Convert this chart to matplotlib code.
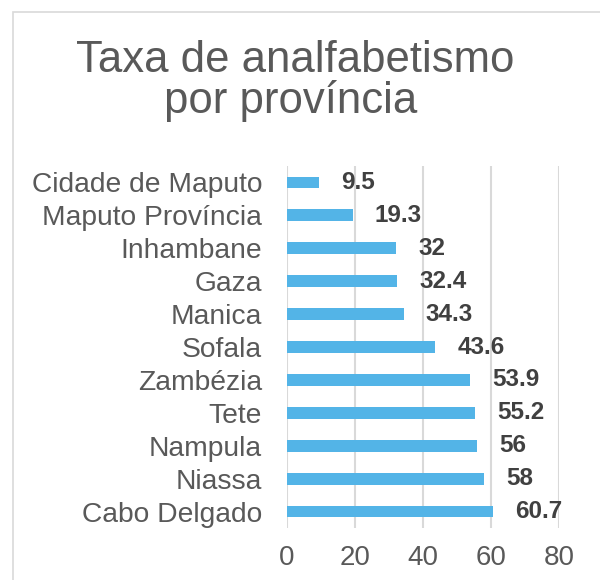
import matplotlib
matplotlib.use('Agg')
import matplotlib.pyplot as plt
from matplotlib.patches import Rectangle

plt.rcParams['font.family'] = ['Liberation Sans', 'DejaVu Sans']

# dados (de cima para baixo)
provincias = ['Cidade de Maputo', 'Maputo Província', 'Inhambane', 'Gaza', 'Manica',
              'Sofala', 'Zambézia', 'Tete', 'Nampula', 'Niassa', 'Cabo Delgado']
taxas = [9.5, 19.3, 32, 32.4, 34.3, 43.6, 53.9, 55.2, 56, 58, 60.7]
x_ticks = [0, 20, 40, 60, 80]

fig = plt.figure(figsize=(6, 5.8), dpi=100)

# moldura clara do gráfico
fig.patches.append(Rectangle((13 / 600, -0.1), 1.2, 1 - 12 / 580 + 0.1,
                             transform=fig.transFigure, fill=False,
                             edgecolor='#d9d9d9', linewidth=1.2))

ax = fig.add_axes([287 / 600, 1 - 528 / 580, 272 / 600, 362 / 580])

pos = list(range(len(provincias)))
ax.barh(pos, taxas, height=0.36, color='#53B4E7', zorder=3)

for p, v in zip(pos, taxas):
    ax.annotate(f'{v:g}', xy=(v, p), xytext=(16, 0), textcoords='offset points',
                va='center', ha='left', fontsize=17.5, fontweight='bold', color='#404040')

ax.set_ylim(len(provincias) - 0.5, -0.5)
ax.set_xlim(0, 80)
ax.set_yticks(pos)
ax.set_yticklabels(provincias)
ax.set_xticks(x_ticks)
ax.tick_params(axis='y', length=0, pad=18, labelsize=20.3, labelcolor='#595959')
ax.tick_params(axis='x', length=0, pad=12, labelsize=20, labelcolor='#595959')
ax.grid(axis='x', color='#d9d9d9', linewidth=1.5, zorder=0)
ax.set_axisbelow(True)
for s in ax.spines.values():
    s.set_visible(False)

# título em duas linhas
fig.text(295 / 600, 1 - 72 / 580, 'Taxa de analfabetismo',
         ha='center', va='baseline', fontsize=31.5, color='#595959')
fig.text(291 / 600, 1 - 113 / 580, 'por província',
         ha='center', va='baseline', fontsize=31.5, color='#595959')

fig.savefig('out.png', dpi=100)
